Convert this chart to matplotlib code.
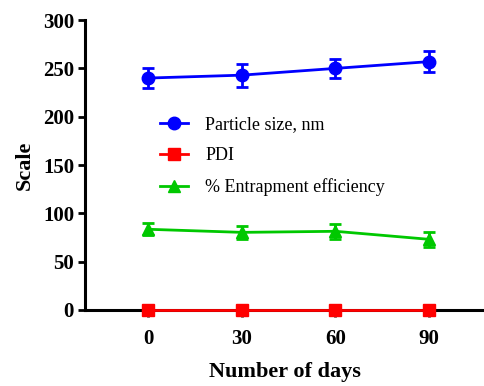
import matplotlib.pyplot as plt
from matplotlib.lines import Line2D

days = [0, 30, 60, 90]
particle_size = [240, 243, 250, 257]
particle_size_err = [10, 12, 10, 11]
pdi = [0.2, 0.2, 0.2, 0.2]
pdi_err = [0.02, 0.02, 0.02, 0.02]
entrapment = [83.5, 80.3, 81.4, 73.1]
entrapment_err = [6, 7, 8, 7.5]

plt.rcParams["font.family"] = ["Liberation Serif", "DejaVu Serif"]

fig = plt.figure(figsize=(4.84, 3.86), dpi=100)
ax = fig.add_axes([0.176, 0.197, 0.824, 0.751])

series = [
    (particle_size, particle_size_err, "#0000ff", "o", 9, "Particle size, nm"),
    (pdi, pdi_err, "#ff0000", "s", 8, "PDI"),
    (entrapment, entrapment_err, "#00c800", "^", 9, "% Entrapment efficiency"),
]
handles = []
for values, errs, color, marker, ms, label in series:
    ax.errorbar(days, values, yerr=errs, color=color, marker=marker,
                markersize=ms, linewidth=2, capsize=4, capthick=2,
                elinewidth=2, clip_on=False, zorder=5)
    handles.append(Line2D([], [], color=color, marker=marker, markersize=ms,
                          linewidth=2, label=label))

ax.set_xlim(-20.2, 107.6)
ax.set_ylim(0, 300)
ax.set_xticks(days)
ax.set_yticks([0, 50, 100, 150, 200, 250, 300])

for side in ["top", "right"]:
    ax.spines[side].set_visible(False)
for side in ["left", "bottom"]:
    ax.spines[side].set_linewidth(2.2)
    ax.spines[side].set_zorder(1)

ax.tick_params(axis="both", width=2, length=5, labelsize=15)
for lbl in ax.get_xticklabels() + ax.get_yticklabels():
    lbl.set_fontweight("bold")
ax.tick_params(axis="x", pad=9)
ax.tick_params(axis="y", pad=3)

ax.set_ylabel("Scale", fontsize=16, fontweight="bold", labelpad=6)
ax.set_xlabel("Number of days", fontsize=16, fontweight="bold", labelpad=9)

ax.legend(handles=handles, loc="upper left", bbox_to_anchor=(0.188, 0.669),
          frameon=False, fontsize=13, handlelength=1.55, handletextpad=0.95,
          labelspacing=0.78, borderpad=0, borderaxespad=0)

fig.savefig("out.png", dpi=100)
